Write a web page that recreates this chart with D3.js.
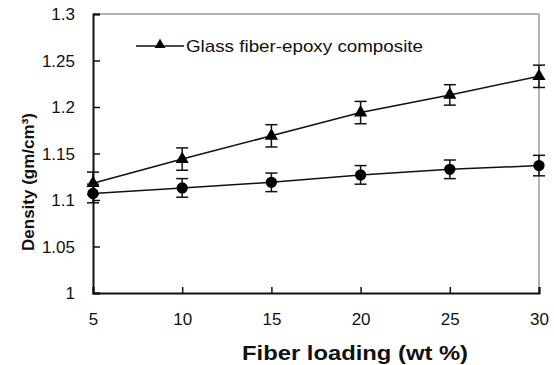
<!DOCTYPE html>
<html>
<head>
<meta charset="utf-8">
<script src="https://cdnjs.cloudflare.com/ajax/libs/d3/7.8.5/d3.min.js"></script>
<style>
 body { margin: 0; background: #fff; }
 text { font-family: "Liberation Sans", Arial, sans-serif; fill: #111; }
</style>
</head>
<body>
<svg id="chart" width="554" height="365"></svg>
<script>
// fiber loading (wt %)
var loading = [5, 10, 15, 20, 25, 30];
// glass fiber-epoxy composite (triangles)
var glassDensity = [1.118, 1.144, 1.169, 1.194, 1.213, 1.233];
var glassErr = [0.012, 0.012, 0.012, 0.012, 0.011, 0.012];
// second series (circles)
var otherDensity = [1.107, 1.113, 1.119, 1.127, 1.133, 1.137];
var otherErr = [0.01, 0.01, 0.01, 0.01, 0.01, 0.011];
var xTicks = [5, 10, 15, 20, 25, 30];
var yTicks = [1, 1.05, 1.1, 1.15, 1.2, 1.25, 1.3];

var svg = d3.select("#chart");
var plotL = 93, plotR = 539, plotT = 14, plotB = 293;

var x = d3.scaleLinear().domain([5, 30]).range([plotL, plotR]);
var y = d3.scaleLinear().domain([1, 1.3]).range([plotB, plotT]);

// grey frame top/right
svg.append("line").attr("x1", plotL).attr("x2", plotR).attr("y1", plotT).attr("y2", plotT)
  .attr("stroke", "#999").attr("stroke-width", 1.5);
svg.append("line").attr("x1", plotR).attr("x2", plotR).attr("y1", plotT).attr("y2", plotB)
  .attr("stroke", "#999").attr("stroke-width", 1.5);

// axes
var yAxis = d3.axisLeft(y).tickValues(yTicks).tickSize(-7).tickPadding(18)
  .tickFormat(function(d) { return String(+d.toFixed(2)); });
var gy = svg.append("g").attr("transform", "translate(" + plotL + ",0)").call(yAxis);
var xAxis = d3.axisBottom(x).tickValues(xTicks).tickSize(-6).tickPadding(20);
var gx = svg.append("g").attr("transform", "translate(0," + plotB + ")").call(xAxis);
[gy, gx].forEach(function(g) {
  g.select(".domain").attr("stroke", "#111").attr("stroke-width", 2);
  g.selectAll(".tick line").attr("stroke", "#111").attr("stroke-width", 1.5);
  g.selectAll(".tick text").style("font-size", "17px").attr("fill", "#222");
});
gy.selectAll(".tick text").attr("dy", "0.35em");

function drawSeries(vals, errs, marker) {
  var pts = loading.map(function(l, i) { return { x: l, y: vals[i], e: errs[i] }; });
  svg.append("path").datum(pts)
    .attr("fill", "none").attr("stroke", "#111").attr("stroke-width", 1.5)
    .attr("d", d3.line().x(function(d) { return x(d.x); }).y(function(d) { return y(d.y); }));
  var eb = svg.append("g").attr("stroke", "#111").attr("stroke-width", 1.5);
  pts.forEach(function(d) {
    var cx = x(d.x);
    eb.append("line").attr("x1", cx).attr("x2", cx).attr("y1", y(d.y - d.e)).attr("y2", y(d.y + d.e));
    eb.append("line").attr("x1", cx - 6).attr("x2", cx + 6).attr("y1", y(d.y - d.e)).attr("y2", y(d.y - d.e));
    eb.append("line").attr("x1", cx - 6).attr("x2", cx + 6).attr("y1", y(d.y + d.e)).attr("y2", y(d.y + d.e));
  });
  svg.append("g").selectAll("path").data(pts).enter().append("path")
    .attr("transform", function(d) { return "translate(" + x(d.x) + "," + y(d.y) + ")"; })
    .attr("d", d3.symbol().type(marker).size(marker === d3.symbolCircle ? 100 : 75))
    .attr("fill", "#000");
}
drawSeries(glassDensity, glassErr, d3.symbolTriangle);
drawSeries(otherDensity, otherErr, d3.symbolCircle);

// legend
svg.append("line").attr("x1", 136).attr("x2", 184).attr("y1", 46).attr("y2", 46)
  .attr("stroke", "#111").attr("stroke-width", 1.5);
svg.append("path").attr("transform", "translate(160,45)")
  .attr("d", d3.symbol().type(d3.symbolTriangle).size(50)).attr("fill", "#000");
svg.append("text").attr("x", 186).attr("y", 52).style("font-size", "17px")
  .attr("textLength", 237).attr("lengthAdjust", "spacingAndGlyphs")
  .text("Glass fiber-epoxy composite");

// axis titles
svg.append("text").attr("transform", "translate(34,182) rotate(-90)")
  .attr("text-anchor", "middle").style("font-size", "17px").style("font-weight", "bold")
  .text("Density (gm/cm\u00b3)");
svg.append("text").attr("x", 355).attr("y", 360).attr("text-anchor", "middle")
  .style("font-size", "21px").style("font-weight", "bold")
  .attr("textLength", 226).attr("lengthAdjust", "spacingAndGlyphs")
  .text("Fiber loading (wt %)");
</script>
</body>
</html>
